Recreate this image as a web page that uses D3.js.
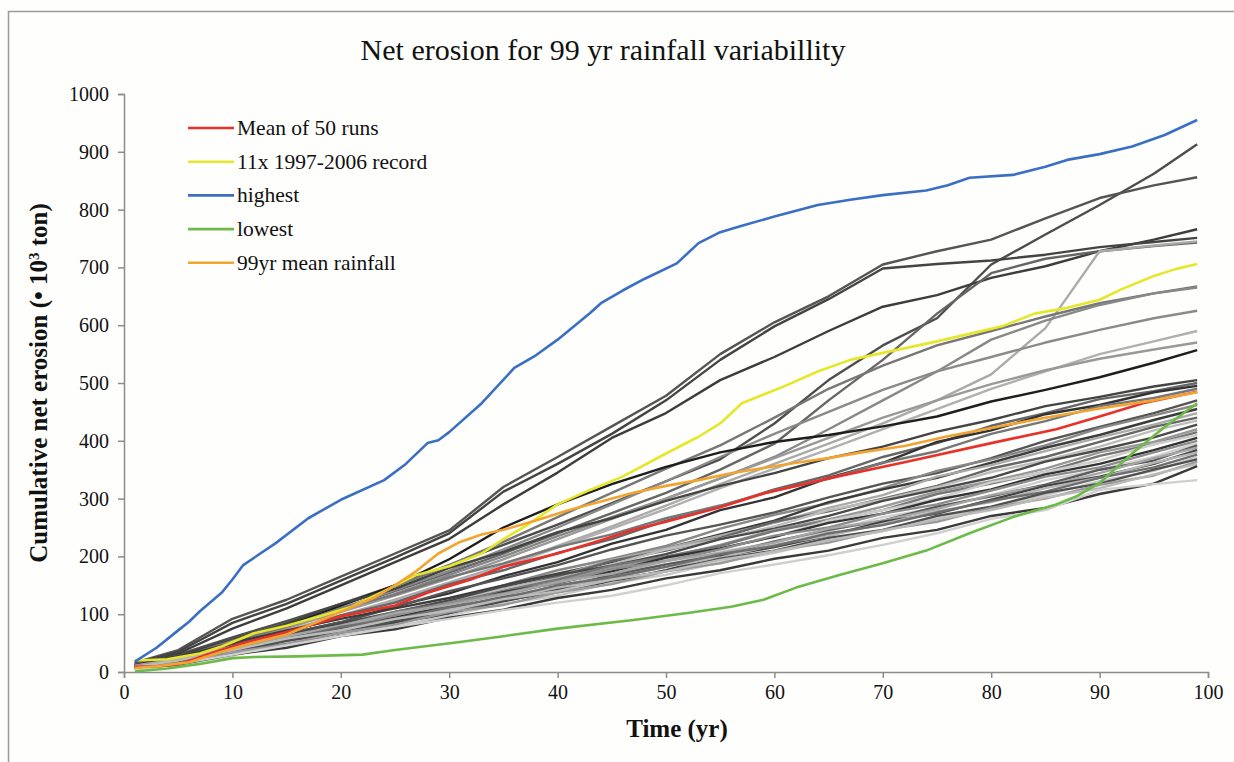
<!DOCTYPE html>
<html>
<head>
<meta charset="utf-8">
<script src="https://cdn.jsdelivr.net/npm/d3@7/dist/d3.min.js"></script>
<style>
  body { margin: 0; background: #fefefc; }
  svg { display: block; }
  text { font-family: "Liberation Serif", "Times New Roman", serif; fill: #111; }
</style>
</head>
<body>
<script>
// years sampled for the grey runs
var runYears = [1, 5, 10, 15, 20, 25, 30, 35, 40, 45, 50, 55, 60, 65, 70, 75, 80, 85, 90, 95, 99];

// grey runs (10^3 ton)
var runValues = [
  [14, 30, 60, 88, 118, 150, 185, 220, 255, 292, 330, 368, 430, 505, 565, 612, 705, 757, 808, 862, 913],
  [16, 38, 92, 125, 165, 205, 245, 320, 372, 425, 478, 550, 605, 650, 705, 728, 748, 785, 820, 842, 856],
  [14, 32, 75, 110, 150, 190, 230, 290, 345, 405, 448, 505, 545, 590, 632, 652, 682, 702, 728, 748, 766],
  [15, 35, 85, 118, 158, 198, 240, 312, 360, 412, 470, 540, 598, 645, 698, 706, 712, 722, 735, 744, 751],
  [13, 28, 55, 82, 110, 140, 172, 205, 240, 275, 310, 350, 395, 470, 540, 620, 690, 715, 728, 737, 743],
  [10, 22, 48, 72, 98, 125, 155, 185, 218, 252, 288, 325, 360, 395, 430, 470, 515, 595, 728, 738, 745],
  [12, 26, 55, 85, 115, 148, 185, 225, 268, 310, 352, 392, 440, 490, 530, 565, 590, 615, 638, 655, 667],
  [11, 24, 50, 78, 105, 135, 168, 200, 235, 268, 300, 335, 372, 420, 470, 520, 575, 608, 635, 655, 665],
  [12, 25, 52, 80, 110, 142, 175, 212, 250, 290, 330, 372, 412, 450, 488, 520, 545, 570, 592, 612, 625],
  [10, 22, 46, 70, 95, 122, 152, 182, 215, 248, 282, 318, 352, 385, 420, 455, 490, 520, 550, 572, 590],
  [11, 24, 50, 76, 104, 132, 162, 195, 230, 265, 300, 335, 370, 405, 440, 470, 498, 522, 542, 558, 570],
  [10, 24, 52, 82, 115, 150, 195, 250, 290, 325, 355, 380, 398, 410, 425, 442, 468, 488, 510, 535, 557],
  [12, 28, 56, 84, 118, 144, 180, 208, 242, 266, 296, 322, 344, 370, 390, 416, 436, 460, 476, 494, 505],
  [10, 20, 46, 68, 98, 120, 152, 176, 206, 230, 262, 286, 316, 340, 372, 396, 426, 448, 472, 486, 500],
  [9, 22, 40, 66, 86, 114, 136, 166, 190, 222, 246, 280, 302, 336, 362, 398, 418, 446, 462, 484, 495],
  [11, 24, 54, 78, 110, 134, 164, 188, 216, 238, 266, 288, 314, 334, 362, 382, 412, 434, 460, 474, 490],
  [9, 22, 45, 66, 86, 112, 140, 162, 185, 212, 236, 255, 276, 302, 326, 344, 370, 400, 424, 448, 470],
  [8, 17, 36, 60, 82, 100, 122, 150, 176, 196, 218, 248, 272, 292, 318, 348, 368, 392, 422, 444, 462],
  [12, 26, 50, 72, 92, 110, 128, 150, 170, 190, 214, 238, 262, 294, 316, 336, 362, 388, 410, 436, 455],
  [6, 14, 30, 50, 74, 96, 116, 138, 166, 194, 214, 236, 258, 284, 306, 338, 358, 382, 406, 428, 448],
  [10, 20, 42, 58, 78, 102, 124, 142, 164, 192, 210, 232, 260, 278, 300, 322, 352, 372, 398, 424, 440],
  [7, 18, 38, 54, 74, 96, 122, 144, 162, 186, 212, 230, 252, 280, 298, 320, 346, 366, 390, 418, 435],
  [11, 24, 46, 64, 84, 104, 124, 148, 168, 184, 204, 230, 248, 270, 296, 316, 336, 364, 384, 406, 428],
  [6, 15, 30, 48, 72, 92, 110, 130, 158, 180, 198, 220, 246, 264, 286, 312, 330, 352, 380, 398, 420],
  [9, 21, 44, 60, 80, 104, 120, 140, 160, 184, 200, 218, 244, 262, 280, 308, 326, 346, 374, 394, 415],
  [5, 13, 28, 50, 68, 84, 108, 130, 148, 170, 196, 214, 234, 262, 280, 300, 328, 346, 366, 394, 410],
  [8, 19, 36, 58, 78, 94, 114, 138, 154, 174, 198, 214, 234, 258, 274, 298, 316, 342, 360, 384, 405],
  [10, 22, 40, 62, 78, 98, 120, 136, 154, 178, 192, 212, 236, 250, 274, 290, 314, 338, 354, 380, 400],
  [6, 16, 36, 50, 70, 90, 104, 124, 148, 164, 184, 208, 224, 244, 268, 284, 306, 332, 350, 372, 396],
  [9, 18, 34, 56, 74, 88, 110, 130, 144, 168, 186, 202, 226, 246, 262, 286, 304, 324, 350, 366, 392],
  [11, 22, 44, 62, 80, 102, 116, 134, 156, 170, 192, 206, 224, 248, 262, 282, 306, 322, 344, 370, 388],
  [6, 15, 34, 48, 64, 86, 100, 122, 142, 156, 176, 200, 216, 236, 260, 274, 298, 322, 338, 360, 384],
  [8, 19, 36, 56, 72, 90, 110, 126, 146, 162, 182, 198, 220, 236, 256, 278, 294, 318, 336, 362, 380],
  [10, 18, 40, 56, 78, 92, 112, 128, 150, 164, 182, 204, 218, 240, 254, 276, 296, 312, 336, 354, 376],
  [5, 14, 30, 44, 64, 78, 98, 118, 132, 154, 168, 190, 206, 228, 244, 268, 284, 306, 330, 348, 372],
  [8, 18, 34, 54, 68, 88, 102, 124, 138, 160, 174, 196, 210, 232, 246, 270, 286, 310, 326, 350, 368],
  [7, 15, 34, 48, 68, 82, 104, 116, 138, 152, 174, 188, 210, 224, 246, 260, 284, 300, 324, 340, 364],
  [9, 20, 38, 58, 72, 92, 106, 126, 140, 160, 174, 194, 208, 228, 244, 264, 280, 302, 318, 342, 360],
  [6, 13, 30, 42, 62, 74, 94, 108, 128, 142, 162, 176, 196, 210, 232, 246, 270, 284, 308, 326, 356],
  [3, 14, 30, 46, 62, 78, 92, 107, 120, 132, 150, 171, 186, 202, 220, 240, 265, 280, 315, 325, 332]
];
var runShades = ["#4d4d4d", "#555", "#3d3d3d", "#444", "#666", "#aaa", "#777", "#888", "#8a8a8a", "#b0b0b0",
  "#999", "#1e1e1e", "#444", "#666", "#333", "#777", "#555", "#888", "#3c3c3c", "#aaa",
  "#666", "#bdbdbd", "#4a4a4a", "#999", "#777", "#ccc", "#333", "#8c8c8c", "#d0d0d0", "#5a5a5a",
  "#a5a5a5", "#444", "#b5b5b5", "#6e6e6e", "#c8c8c8", "#505050", "#999", "#bbb", "#3a3a3a", "#d0d0d0"];

// highlighted series
var meanYears = [1, 3, 5, 8, 11, 15, 20, 25, 28, 32, 35, 40, 44, 47, 50, 55, 59, 65, 72, 80, 86, 90, 94, 99];
var meanValues = [9, 10, 13, 32, 50, 69, 96, 115, 137, 160, 182, 205, 228, 246, 260, 285, 309, 335, 363, 396, 420, 442, 465, 485];

var recordYears = [1, 4, 7, 9, 12, 15, 18, 21, 24, 27, 30, 33, 35, 37, 40, 43, 46, 50, 53, 55, 57, 59, 61, 64, 67, 71, 75, 78, 81, 84, 87, 90, 92, 95, 97, 99];
var recordValues = [20, 22, 32, 44, 67, 80, 96, 113, 140, 168, 183, 205, 230, 252, 290, 315, 338, 378, 407, 430, 465, 480, 495, 520, 540, 556, 572, 585, 598, 620, 630, 644, 662, 685, 697, 706];

var highestYears = [1, 3, 5, 6, 7, 9, 10, 11, 14, 17, 20, 24, 26, 28, 29, 30, 33, 36, 38, 40, 43, 44, 46, 48, 51, 53, 55, 57, 60, 64, 67, 70, 74, 76, 78, 82, 85, 87, 90, 93, 96, 99];
var highestValues = [18, 42, 72, 87, 105, 137, 160, 185, 223, 266, 298, 332, 360, 396, 401, 415, 465, 526, 548, 575, 621, 638, 660, 680, 707, 742, 761, 772, 788, 808, 817, 825, 833, 842, 855, 860, 874, 886, 896, 909, 929, 955];

var lowestYears = [1, 4, 7, 10, 12, 16, 22, 25, 28, 31, 35, 40, 47, 52, 56, 59, 62, 66, 70, 74, 78, 82, 86, 88, 90, 93, 96, 99];
var lowestValues = [1, 6, 14, 24, 26, 27, 30, 38, 45, 52, 62, 75, 90, 102, 113, 125, 146, 168, 188, 210, 240, 268, 290, 305, 327, 378, 424, 465];

var rainYears = [1, 3, 6, 9, 11, 15, 18, 20, 23, 25, 27, 29, 31, 33, 35, 38, 41, 44, 47, 50, 53, 56, 59, 62, 65, 68, 72, 76, 80, 85, 90, 95, 99];
var rainValues = [7, 10, 17, 35, 46, 65, 88, 104, 128, 150, 175, 205, 225, 238, 246, 262, 280, 295, 310, 322, 332, 344, 353, 362, 370, 380, 391, 408, 422, 440, 456, 470, 484];

var legendLabels = ["Mean of 50 runs", "11x 1997-2006 record", "highest", "lowest", "99yr mean rainfall"];
var legendColors = ["#e8312a", "#e6e62a", "#3a6fc4", "#6cba48", "#f2a431"];

var xTicks = d3.range(0, 101, 10);
var yTicks = d3.range(0, 1001, 100);

var width = 1234, height = 762;
var serif = "'Liberation Serif', 'Times New Roman', serif";

var svg = d3.select("body").append("svg")
  .attr("width", width)
  .attr("height", height)
  .attr("font-family", serif);

svg.append("rect")
  .attr("width", width)
  .attr("height", height)
  .attr("fill", "#fefefc");

// thin frame of the original chart box
svg.append("rect")
  .attr("x", 8.5).attr("y", 11.5)
  .attr("width", 1400).attr("height", 1000)
  .attr("fill", "none")
  .attr("stroke", "#9a9a9a")
  .attr("stroke-width", 1.5);

var x = d3.scaleLinear().domain([0, 100]).range([124, 1208]);
var y = d3.scaleLinear().domain([0, 1000]).range([672, 94]);

function pairs(years, values) {
  return years.map(function(t, i) { return [t, values[i]]; });
}

var line = d3.line()
  .x(function(d) { return x(d[0]); })
  .y(function(d) { return y(d[1]); });

// axes
var yAxis = svg.append("g")
  .attr("transform", "translate(124,0)")
  .call(d3.axisLeft(y).tickValues(yTicks).tickFormat(d3.format("d")).tickSize(6).tickPadding(9));
var xAxis = svg.append("g")
  .attr("transform", "translate(0,672)")
  .call(d3.axisBottom(x).tickValues(xTicks).tickFormat(d3.format("d")).tickSize(6).tickPadding(7));

[xAxis, yAxis].forEach(function(g) {
  g.attr("font-family", serif).attr("font-size", 20);
  g.selectAll("path, line").attr("stroke", "#8c8c8c").attr("stroke-width", 1.5);
  g.selectAll("text").attr("fill", "#1a1a1a");
});

// grey runs
svg.append("g").selectAll("path")
  .data(runValues)
  .enter()
  .append("path")
  .attr("d", function(v) { return line(pairs(runYears, v)); })
  .attr("fill", "none")
  .attr("stroke", function(v, i) { return runShades[i]; })
  .attr("stroke-width", 2.4)
  .attr("stroke-linejoin", "round");

// coloured series, drawn on top
var highlight = [
  pairs(meanYears, meanValues),
  pairs(recordYears, recordValues),
  pairs(highestYears, highestValues),
  pairs(lowestYears, lowestValues),
  pairs(rainYears, rainValues)
];

svg.append("g").selectAll("path")
  .data(highlight)
  .enter()
  .append("path")
  .attr("d", line)
  .attr("fill", "none")
  .attr("stroke", function(d, i) { return legendColors[i]; })
  .attr("stroke-width", 2.6)
  .attr("stroke-linejoin", "round");

// legend
var legend = svg.append("g").selectAll("g")
  .data(legendLabels)
  .enter()
  .append("g")
  .attr("transform", function(d, i) { return "translate(188," + (128 + i * 33.7) + ")"; });

legend.append("line")
  .attr("x1", 0).attr("x2", 46)
  .attr("stroke", function(d, i) { return legendColors[i]; })
  .attr("stroke-width", 2.6);

legend.append("text")
  .attr("x", 49)
  .attr("y", 7)
  .attr("font-size", 21.5)
  .text(function(d) { return d; });

// titles
svg.append("text")
  .attr("x", 603)
  .attr("y", 60)
  .attr("text-anchor", "middle")
  .attr("font-size", 30)
  .text("Net erosion for 99 yr rainfall variabillity");

svg.append("text")
  .attr("x", 677)
  .attr("y", 737)
  .attr("text-anchor", "middle")
  .attr("font-size", 25)
  .attr("font-weight", "bold")
  .text("Time (yr)");

svg.append("text")
  .attr("transform", "translate(47,383) rotate(-90)")
  .attr("text-anchor", "middle")
  .attr("font-size", 25)
  .attr("font-weight", "bold")
  .html("Cumulative net erosion (• 10<tspan baseline-shift='super' font-size='15'>3</tspan> ton)");
</script>
</body>
</html>
